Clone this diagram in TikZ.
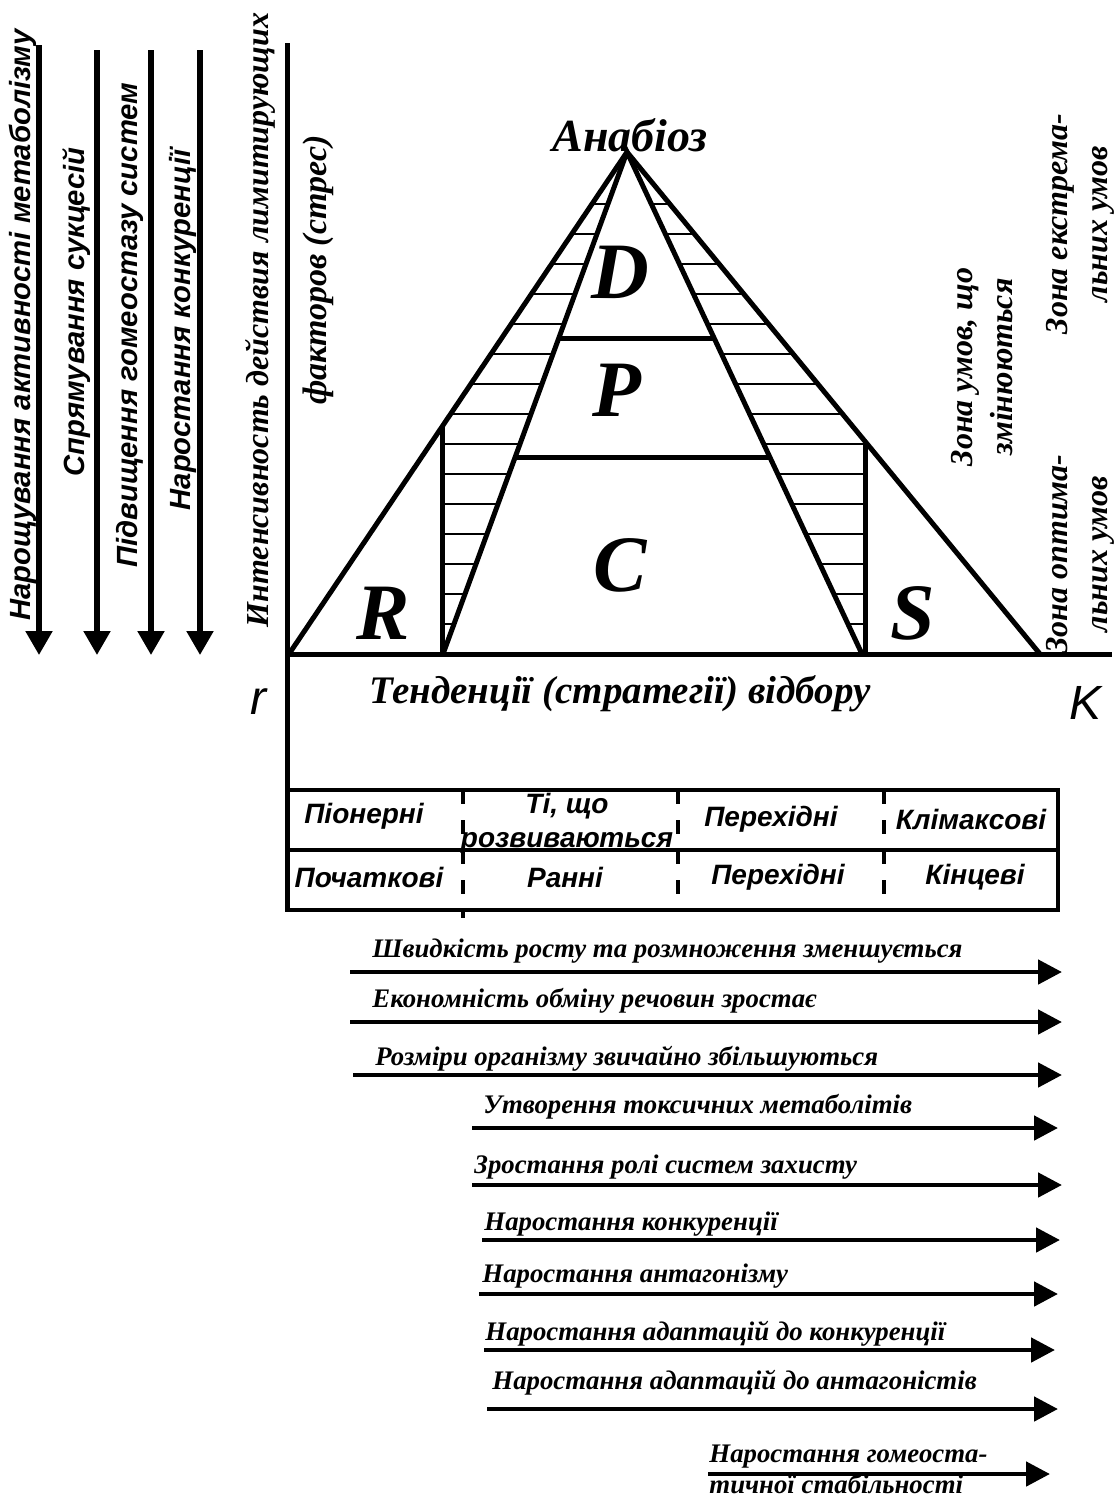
\documentclass[tikz,border=0pt]{standalone}
\usepackage{fontspec}
\setmainfont{Liberation Serif}
\setsansfont{Liberation Sans}
\usetikzlibrary{arrows.meta, positioning}

\begin{document}
\begin{tikzpicture}
    [
    x=0.5pt, y=-0.5pt,
    boldline/.style={
        line width=2.5pt
    },
    hatchline/.style={
        line width=0.8pt
    },
    tableline/.style={
        line width=2pt
    },
    divider/.style={
        line width=1.6pt,
        dash pattern=on 7pt off 8pt
    },
    downarrow/.style={
        -{Triangle[length=12pt,width=13pt]},
        line width=2.6pt
    },
    trendarrow/.style={
        -{Triangle[length=12pt,width=12pt]},
        line width=2.4pt
    },
    letter/.style={
        font=\bfseries\itshape\fontsize{40}{40}\selectfont,
        inner sep=0pt
    },
    trend/.style={
        font=\bfseries\itshape\fontsize{13.4}{16}\selectfont,
        anchor=base west,
        inner sep=0pt
    },
    zone/.style={
        font=\bfseries\itshape\fontsize{16}{20}\selectfont,
        rotate=90,
        align=center,
        inner sep=0pt
    },
    side/.style={
        font=\sffamily\bfseries\itshape\fontsize{14.6}{15}\selectfont,
        rotate=90,
        inner sep=0pt
    },
    cell/.style={
        font=\sffamily\bfseries\itshape\fontsize{14}{17}\selectfont,
        align=center,
        inner sep=0pt
    }
    ]
    \useasboundingbox (0,0) rectangle (1119,1501);

    % points of the pyramid
    \coordinate (apex) at (627,152);
    \coordinate (outerL) at (289,654);
    \coordinate (outerR) at (1040,654);
    \coordinate (innerL) at (443,654);
    \coordinate (innerR) at (862,654);
    \coordinate (wallLtop) at (442,427);
    \coordinate (wallLbot) at (442,654);
    \coordinate (wallRtop) at (865,441);
    \coordinate (wallRbot) at (865,654);

    % hatching between inner and outer sides
    \begin{scope}
        \clip (apex) -- (wallLtop) -- (wallLbot) -- (innerL) -- cycle;
        \foreach \y in {204,234,...,624}
            \draw[hatchline] (280,\y) -- (700,\y);
    \end{scope}
    \begin{scope}
        \clip (apex) -- (wallRtop) -- (wallRbot) -- (innerR) -- cycle;
        \foreach \y in {204,234,...,624}
            \draw[hatchline] (560,\y) -- (1050,\y);
    \end{scope}

    % pyramid
    \draw[boldline] (outerL) -- (apex) -- (outerR);
    \draw[boldline] (innerL) -- (apex) -- (innerR);
    \draw[boldline] (wallLtop) -- (wallLbot);
    \draw[boldline] (wallRtop) -- (wallRbot);
    \coordinate (dpL) at (559,338);
    \coordinate (dpR) at (714,338);
    \coordinate (pcL) at (516,457);
    \coordinate (pcR) at (769,457);
    \draw[boldline] (dpL) -- (dpR);
    \draw[boldline] (pcL) -- (pcR);

    % axes
    \coordinate (yTop) at (287,43);
    \coordinate (yBot) at (287,912);
    \coordinate (origin) at (287,654);
    \coordinate (xEnd) at (1112,654);
    \draw[boldline] (yTop) -- (yBot);
    \draw[boldline] (origin) -- (xEnd);

    % letters inside the pyramid
    \node (anab) [font=\bfseries\itshape\fontsize{23}{23}\selectfont, inner sep=0pt] at (630,135) {Анабіоз};
    \node (D) [letter] at (620,272) {D};
    \node (P) [letter] at (617,390) {P};
    \node (C) [letter] at (620,565) {C};
    \node (R) [letter] at (383,613) {R};
    \node (S) [letter] at (913,613) {S};

    % axis labels
    \node (intens) [font=\bfseries\itshape\fontsize{16}{16}\selectfont, rotate=90, inner sep=0pt] at (260,320) {Интенсивность действия лимитирующих};
    \node (factors) [font=\bfseries\itshape\fontsize{17}{17}\selectfont, rotate=90, inner sep=0pt] at (318,270) {факторов (стрес)};
    \node (tend) [font=\bfseries\itshape\fontsize{19.5}{19.5}\selectfont, inner sep=0pt] at (620,694) {Тенденції (стратегії) відбору};
    \node (r) [font=\sffamily\itshape\fontsize{24}{24}\selectfont, inner sep=0pt] at (258,702) {r};
    \node (K) [font=\sffamily\itshape\fontsize{24}{24}\selectfont, inner sep=0pt] at (1085,703) {K};

    % zones on the right
    \node (zExt) [zone] at (1080,224) {Зона екстрема-\\льних умов};
    \node (zVar) [zone] at (982,367) {Зона умов, що\\змінюються};
    \node (zOpt) [zone] at (1080,554) {Зона оптима-\\льних умов};

    % arrows on the left
    \coordinate (s1) at (39,45);  \coordinate (e1) at (39,655);
    \coordinate (s2) at (97,50);  \coordinate (e2) at (97,655);
    \coordinate (s3) at (151,50); \coordinate (e3) at (151,655);
    \coordinate (s4) at (200,50); \coordinate (e4) at (200,655);
    \draw[downarrow] (s1) -- (e1);
    \draw[downarrow] (s2) -- (e2);
    \draw[downarrow] (s3) -- (e3);
    \draw[downarrow] (s4) -- (e4);
    \node (metab) [side] at (23,325) {Нарощування активності метаболізму};
    \node (succ) [side] at (77,312) {Спрямування сукцесій};
    \node (homeo) [side] at (130,325) {Підвищення гомеостазу систем};
    \node (compL) [side] at (183,330) {Наростання конкуренції};

    % table of communities
    \draw[tableline] (287,790) rectangle (1058,910);
    \coordinate (midL) at (287,850);
    \coordinate (midR) at (1058,850);
    \draw[tableline] (midL) -- (midR);
    \coordinate (d1t) at (463,790); \coordinate (d1b) at (463,918);
    \coordinate (d2t) at (678,790); \coordinate (d2b) at (678,910);
    \coordinate (d3t) at (884,790); \coordinate (d3b) at (884,910);
    \draw[divider] (d1t) -- (d1b);
    \draw[divider] (d2t) -- (d2b);
    \draw[divider] (d3t) -- (d3b);
    \node (pion) [cell] at (364,816) {Піонерні};
    \node (devel) [cell] at (567,823) {Ті, що\\розвиваються};
    \node (trans1) [cell] at (771,819) {Перехідні};
    \node (clim) [cell] at (971,819) {Клімаксові};
    \node (init) [cell] at (369,877) {Початкові};
    \node (early) [cell] at (565,877) {Ранні};
    \node (trans2) [cell] at (778,877) {Перехідні};
    \node (fin) [cell] at (975,877) {Кінцеві};

    % trends along the series
    \coordinate (t1s) at (350,972);  \coordinate (t1e) at (1062,972);
    \coordinate (t2s) at (350,1022); \coordinate (t2e) at (1062,1022);
    \coordinate (t3s) at (353,1075); \coordinate (t3e) at (1062,1075);
    \coordinate (t4s) at (472,1128); \coordinate (t4e) at (1058,1128);
    \coordinate (t5s) at (472,1185); \coordinate (t5e) at (1062,1185);
    \coordinate (t6s) at (482,1240); \coordinate (t6e) at (1060,1240);
    \coordinate (t7s) at (479,1294); \coordinate (t7e) at (1058,1294);
    \coordinate (t8s) at (484,1350); \coordinate (t8e) at (1055,1350);
    \coordinate (t9s) at (487,1409); \coordinate (t9e) at (1058,1409);
    \coordinate (t10s) at (708,1474); \coordinate (t10e) at (1050,1474);
    \draw[trendarrow] (t1s) -- (t1e);
    \draw[trendarrow] (t2s) -- (t2e);
    \draw[trendarrow] (t3s) -- (t3e);
    \draw[trendarrow] (t4s) -- (t4e);
    \draw[trendarrow] (t5s) -- (t5e);
    \draw[trendarrow] (t6s) -- (t6e);
    \draw[trendarrow] (t7s) -- (t7e);
    \draw[trendarrow] (t8s) -- (t8e);
    \draw[trendarrow] (t9s) -- (t9e);
    \draw[trendarrow] (t10s) -- (t10e);
    \node (speed) [trend] at (372,957) {Швидкість росту та розмноження зменшується};
    \node (econ) [trend] at (372,1007) {Економність обміну речовин зростає};
    \node (size) [trend] at (375,1065) {Розміри організму звичайно збільшуються};
    \node (toxic) [trend] at (483,1113) {Утворення токсичних метаболітів};
    \node (defence) [trend] at (474,1173) {Зростання ролі систем захисту};
    \node (compB) [trend] at (484,1230) {Наростання конкуренції};
    \node (antag) [trend] at (482,1282) {Наростання антагонізму};
    \node (adComp) [trend] at (485,1340) {Наростання адаптацій до конкуренції};
    \node (adAnt) [trend] at (492,1389) {Наростання адаптацій до антагоністів};
    \node (stab1) [trend] at (709,1462) {Наростання гомеоста-};
    \node (stab2) [trend] at (709,1493) {тичної стабільності};

\end{tikzpicture}
\end{document}
